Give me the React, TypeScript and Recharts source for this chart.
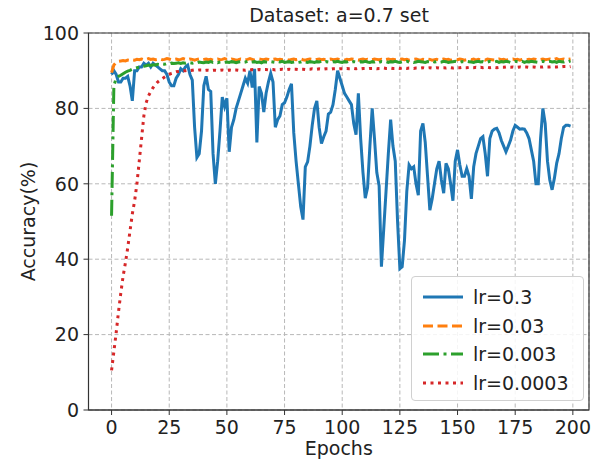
import { CartesianGrid, Label, Legend, Line, LineChart, ReferenceArea, XAxis, YAxis } from "recharts";

const epochs = Array.from({ length: 200 }, (_, i) => i);
const xTicks = [0, 25, 50, 75, 100, 125, 150, 175, 200];
const yTicks = [0, 20, 40, 60, 80, 100];

// lr=0.3
const acc1 = [
  89, 90, 89, 87, 87, 88, 88, 88.5, 86, 82,
  90, 90, 91, 91, 92, 91.5, 92, 91, 92, 91.5,
  91, 90.5, 90, 90, 89, 87, 86, 86, 88, 89,
  90.5, 90, 91, 91.5, 89, 87.5, 75, 67, 68, 74,
  86, 88.5, 85, 84.5, 68, 60, 66, 74, 83, 80.5,
  82.7, 68.5, 75, 77, 80, 82, 84, 86, 88, 86.7,
  90, 85.5, 90.5, 71, 85.8, 84, 79, 84, 87, 89.3,
  87, 75, 77, 78, 81, 81.5, 83, 85, 86.5, 73.5,
  66, 60, 54, 50.5, 64.5, 65.8, 70, 75.5, 80, 82,
  75, 70.7, 72.5, 74, 78.5, 79, 81, 85, 90, 88,
  86, 84, 83, 82, 81, 76, 73, 84, 72, 63,
  56.2, 59, 70, 80, 72, 63, 59.5, 38, 48, 58,
  68, 77, 70, 66, 50, 37.5, 38, 45, 58, 65,
  64, 64.5, 60, 57, 74, 76, 71, 62, 53, 56,
  60, 64, 66, 61, 57.5, 65.4, 64, 60, 55.5, 66,
  69, 65, 62, 62, 64, 62, 56, 64.5, 68, 70,
  72, 72.5, 68, 62, 72, 74, 74.5, 74.7, 73.5, 71.5,
  70, 68.5, 70, 71.6, 74, 75.5, 75, 74.5, 74.6, 74.5,
  73.5, 72, 69, 66, 60, 60, 72, 80, 76, 66,
  61, 58.4, 61.5, 65.5, 68, 72, 75, 75.5, 75.5, 75.3,
];

// lr=0.03
const acc2 = [
  89.5, 91.5, 92.2, 92.5, 92.6, 92.7, 92.6, 92.8, 92.7, 92.9,
  92.8, 93.0, 92.9, 93.1, 92.9, 93.0, 93.2, 93.0, 93.1, 92.9,
  93.0, 93.1, 92.9, 93.0, 93.2, 93.1, 92.9, 93.0, 93.1, 92.9,
  93.0, 93.2, 93.0, 92.9, 93.1, 93.0, 92.8, 93.0, 93.1, 92.9,
  93.0, 93.1, 92.9, 93.0, 92.8, 93.0, 93.1, 92.9, 93.0, 93.2,
  93.0, 92.9, 93.1, 93.0, 92.8, 92.9, 93.1, 93.0, 92.9, 93.0,
  93.2, 93.0, 92.8, 92.9, 93.1, 93.0, 92.9, 93.1, 93.0, 92.8,
  93.0, 93.1, 92.9, 93.0, 92.9, 93.1, 93.0, 92.8, 93.0, 93.1,
  92.9, 93.0, 93.1, 92.9, 92.8, 93.0, 93.1, 93.0, 92.9, 93.0,
  93.1, 92.9, 93.0, 92.8, 93.0, 93.1, 92.9, 93.0, 93.1, 92.9,
  93.0, 92.8, 93.0, 92.9, 93.1, 93.0, 92.9, 92.8, 93.0, 93.1,
  92.9, 93.0, 92.8, 92.9, 93.1, 93.0, 92.9, 93.0, 92.8, 93.0,
  93.1, 92.9, 93.0, 92.9, 92.8, 93.0, 93.1, 92.9, 93.0, 92.8,
  92.9, 93.0, 93.1, 92.9, 92.8, 93.0, 92.9, 93.1, 93.0, 92.8,
  92.9, 93.0, 92.8, 93.0, 93.1, 92.9, 93.0, 92.8, 92.9, 93.0,
  92.9, 93.1, 93.0, 92.8, 92.9, 93.0, 92.9, 93.1, 92.8, 93.0,
  92.9, 93.0, 92.8, 93.1, 93.0, 92.9, 92.8, 93.0, 93.1, 92.9,
  93.0, 92.8, 92.9, 93.0, 93.1, 92.9, 93.0, 92.8, 93.0, 93.1,
  92.9, 93.0, 92.9, 93.1, 93.0, 92.8, 93.0, 93.1, 92.9, 93.0,
  93.1, 92.9, 93.0, 93.2, 92.9, 93.0, 93.1, 92.9, 93.0, 93.1,
];

// lr=0.003
const acc3 = [
  51.5, 86.0, 88.0, 88.5, 88.8, 89.2, 89.6, 89.9, 90.1, 90.4,
  90.6, 90.8, 90.9, 91.1, 91.2, 91.3, 91.5, 91.4, 91.6, 91.5,
  91.7, 91.6, 91.8, 91.7, 91.9, 91.8, 92.0, 91.9, 92.0, 92.1,
  91.9, 92.1, 92.0, 92.2, 92.1, 92.0, 92.2, 92.1, 92.3, 92.2,
  92.1, 92.3, 92.2, 92.4, 92.2, 92.3, 92.1, 92.3, 92.4, 92.2,
  92.3, 92.2, 92.4, 92.3, 92.1, 92.3, 92.4, 92.2, 92.3, 92.5,
  92.2, 92.3, 92.4, 92.2, 92.3, 92.1, 92.4, 92.3, 92.2, 92.4,
  92.3, 92.2, 92.4, 92.3, 92.5, 92.2, 92.3, 92.4, 92.2, 92.3,
  92.4, 92.2, 92.3, 92.5, 92.3, 92.2, 92.4, 92.3, 92.2, 92.4,
  92.3, 92.5, 92.2, 92.4, 92.3, 92.2, 92.4, 92.3, 92.5, 92.3,
  92.2, 92.4, 92.3, 92.5, 92.2, 92.4, 92.3, 92.2, 92.4, 92.3,
  92.5, 92.3, 92.2, 92.4, 92.3, 92.5, 92.2, 92.4, 92.3, 92.4,
  92.2, 92.4, 92.3, 92.5, 92.3, 92.2, 92.4, 92.3, 92.5, 92.3,
  92.4, 92.2, 92.3, 92.5, 92.4, 92.3, 92.2, 92.4, 92.3, 92.5,
  92.3, 92.4, 92.2, 92.3, 92.5, 92.4, 92.2, 92.3, 92.4, 92.5,
  92.3, 92.2, 92.4, 92.3, 92.5, 92.4, 92.3, 92.2, 92.4, 92.5,
  92.3, 92.4, 92.2, 92.3, 92.5, 92.4, 92.3, 92.5, 92.2, 92.4,
  92.3, 92.5, 92.4, 92.2, 92.3, 92.5, 92.4, 92.3, 92.5, 92.2,
  92.4, 92.3, 92.5, 92.4, 92.3, 92.2, 92.4, 92.5, 92.3, 92.4,
  92.5, 92.3, 92.4, 92.2, 92.5, 92.4, 92.3, 92.5, 92.4, 92.6,
];

// lr=0.0003
const acc4 = [
  10.5, 15.5, 20.5, 26.0, 31.0, 35.5, 39.0, 43.0, 47.5, 52.0,
  55.5, 60.0, 66.0, 72.0, 78.0, 81.5, 83.3, 84.5, 85.5, 86.3,
  87.0, 87.5, 87.9, 88.3, 88.7, 89.0, 89.3, 89.5, 89.7, 89.8,
  89.9, 90.0, 90.0, 90.1, 90.0, 90.1, 90.2, 90.1, 90.2, 90.2,
  90.0, 90.1, 90.1, 90.0, 90.1, 90.1, 90.0, 90.1, 90.2, 90.1,
  90.1, 90.2, 90.1, 90.2, 90.2, 90.1, 90.2, 90.2, 90.1, 90.2,
  90.2, 90.3, 90.2, 90.2, 90.3, 90.2, 90.3, 90.3, 90.2, 90.3,
  90.3, 90.2, 90.3, 90.3, 90.4, 90.3, 90.3, 90.4, 90.3, 90.4,
  90.4, 90.3, 90.4, 90.4, 90.3, 90.4, 90.4, 90.5, 90.4, 90.4,
  90.5, 90.4, 90.4, 90.5, 90.5, 90.4, 90.5, 90.5, 90.4, 90.5,
  90.5, 90.5, 90.6, 90.5, 90.5, 90.6, 90.5, 90.6, 90.5, 90.6,
  90.6, 90.5, 90.6, 90.6, 90.6, 90.5, 90.6, 90.6, 90.7, 90.6,
  90.6, 90.7, 90.6, 90.6, 90.7, 90.6, 90.7, 90.7, 90.6, 90.7,
  90.7, 90.6, 90.7, 90.7, 90.7, 90.8, 90.7, 90.7, 90.8, 90.7,
  90.7, 90.8, 90.7, 90.8, 90.8, 90.7, 90.8, 90.8, 90.7, 90.8,
  90.8, 90.8, 90.9, 90.8, 90.8, 90.9, 90.8, 90.8, 90.9, 90.8,
  90.9, 90.8, 90.9, 90.9, 90.8, 90.9, 90.9, 90.8, 90.9, 90.9,
  90.9, 91.0, 90.9, 90.9, 91.0, 90.9, 90.9, 91.0, 90.9, 91.0,
  91.0, 90.9, 91.0, 91.0, 90.9, 91.0, 91.0, 91.0, 91.1, 91.0,
  91.0, 91.1, 91.0, 91.0, 91.1, 91.0, 91.1, 91.1, 91.0, 91.1,
];

const series = [
  { key: "a1", name: "lr=0.3", color: "#1f77b4", dash: undefined },
  { key: "a2", name: "lr=0.03", color: "#ff7f0e", dash: "10 4.5" },
  { key: "a3", name: "lr=0.003", color: "#2ca02c", dash: "16 4.5 3 4.5" },
  { key: "a4", name: "lr=0.0003", color: "#d62728", dash: "3 4.5" },
];

const data = epochs.map((e, i) => ({ epoch: e, a1: acc1[i], a2: acc2[i], a3: acc3[i], a4: acc4[i] }));

const font = "'DejaVu Sans', sans-serif";
const txt = "#222";

function LegendBox() {
  return (
    <div
      style={{
        width: 173,
        height: 125,
        boxSizing: "border-box",
        border: "1px solid #d0d0d0",
        borderRadius: 4,
        background: "rgba(255,255,255,0.85)",
        padding: "6px 0 0 11px",
      }}
    >
      {series.map((s) => (
        <div key={s.key} style={{ display: "flex", alignItems: "center", height: 28.5 }}>
          <svg width={40} height={10}>
            <line x1={0} y1={5} x2={40} y2={5} stroke={s.color} strokeWidth={3} strokeDasharray={s.dash} />
          </svg>
          <span style={{ marginLeft: 10, fontSize: 19, fontFamily: font, color: txt, lineHeight: "20px" }}>{s.name}</span>
        </div>
      ))}
    </div>
  );
}

export default function App() {
  return (
    <div style={{ position: "absolute", left: 0, top: 0, width: 600, height: 463, background: "#fff", fontFamily: font }}>
      <div
        style={{
          position: "absolute",
          left: 0,
          width: 678,
          top: 5,
          textAlign: "center",
          fontSize: 19,
          lineHeight: "20px",
          color: txt,
          zIndex: 2,
        }}
      >
        Dataset: a=0.7 set
      </div>
      <LineChart width={600} height={463} data={data} margin={{ top: 33, right: 11, bottom: 0, left: 18 }}>
        <CartesianGrid stroke="#b8b8b8" strokeDasharray="4 2.5" />
        <XAxis
          type="number"
          dataKey="epoch"
          domain={[-10, 207]}
          ticks={xTicks}
          interval={0}
          height={53}
          tickSize={5}
          tickMargin={6}
          stroke="#333"
          tick={{ fontSize: 19, fill: txt }}
        >
          <Label value="Epochs" position="insideBottom" offset={8} style={{ fontSize: 19, fill: txt }} />
        </XAxis>
        <YAxis
          domain={[0, 100]}
          ticks={yTicks}
          interval={0}
          width={70.5}
          tickSize={5}
          tickMargin={4.5}
          stroke="#333"
          tick={{ fontSize: 19, fill: txt }}
        >
          <Label
            value="Accuracy(%)"
            angle={-90}
            position="insideLeft"
            offset={10}
            style={{ fontSize: 19, fill: txt, textAnchor: "middle" }}
          />
        </YAxis>
        {series.map((s) => (
          <Line
            key={s.key}
            type="linear"
            dataKey={s.key}
            name={s.name}
            stroke={s.color}
            strokeWidth={3}
            strokeDasharray={s.dash}
            dot={false}
            activeDot={false}
            isAnimationActive={false}
          />
        ))}
        <ReferenceArea x1={-10} x2={207} y1={0} y2={100} fill="none" stroke="#333" strokeWidth={1.2} ifOverflow="visible" />
        <Legend
          layout="horizontal"
          align="center"
          verticalAlign="middle"
          wrapperStyle={{ left: 411, top: 276, width: 173 }}
          content={() => <LegendBox />}
        />
      </LineChart>
    </div>
  );
}
